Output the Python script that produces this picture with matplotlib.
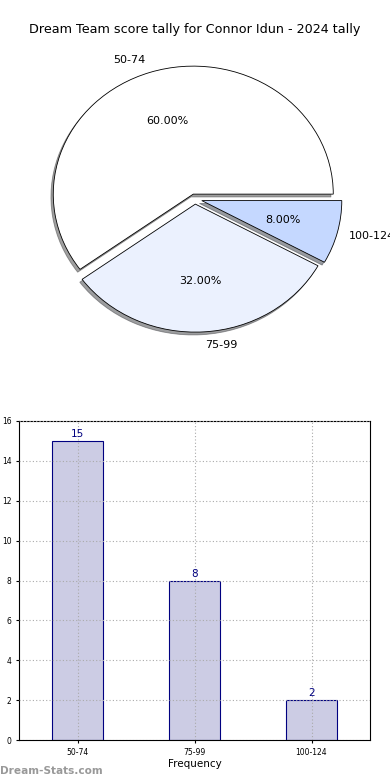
import matplotlib
matplotlib.use("Agg")
import matplotlib.pyplot as plt

categories = ["50-74", "75-99", "100-124"]
counts = [15, 8, 2]
pie_colors = ["#ffffff", "#ebf1fe", "#c5d8ff"]
explode = [0.04, 0.04, 0.05]
title = "Dream Team score tally for Connor Idun - 2024 tally"

fig = plt.figure(figsize=(3.9, 7.8), dpi=100)

# Pie axes (units: 1 radius = 140 px horizontally, 128 px vertically)
rx, ry = 140, 128
cx, cy = 195, 199
half = 1.3
W, H = 390, 780
left = (cx - half * rx) / W
width = 2 * half * rx / W
bottom = 1 - (cy + half * ry) / H
height = 2 * half * ry / H
axp = fig.add_axes([left, bottom, width, height])
wedges, texts, autotexts = axp.pie(
    counts, labels=categories, colors=pie_colors, explode=explode,
    autopct="%.2f%%", shadow={"ox": -0.012, "oy": -0.016, "shade": 0.75},
    startangle=0,
    wedgeprops=dict(edgecolor="black", linewidth=0.6),
    textprops=dict(fontsize=8), labeldistance=1.1, pctdistance=0.6)
texts[2].set_x(texts[2].get_position()[0] - 0.015)
axp.set_aspect("auto")
axp.set_xlim(-half, half)
axp.set_ylim(-half, half)
axp.axis("off")

fig.text(0.5, 1 - 30 / H, title, ha="center", va="center", fontsize=9.2)

# Bar axes
axb = fig.add_axes([19 / W, 1 - 740 / H, 351 / W, 319 / H])
x = list(range(len(categories)))
bars = axb.bar(x, counts, width=0.44, color="#cccce4", edgecolor="#000080", linewidth=0.8)
for xi, v in zip(x, counts):
    axb.text(xi, v + 0.1, str(v), ha="center", va="bottom", fontsize=7.5, color="#000080")
axb.set_xlim(-0.5, 2.5)
axb.set_ylim(0, 16)
axb.set_yticks(range(0, 17, 2))
axb.set_xticks(x)
axb.set_xticklabels(categories)
axb.tick_params(labelsize=5.5, length=2)
axb.grid(True, linestyle=(0, (1, 2)), color="#aaaaaa", linewidth=0.8)
axb.set_axisbelow(False)
axb.set_xlabel("Frequency", fontsize=7.5, labelpad=2)
axb.set_ylabel("Scores in Tally", fontsize=7.5)
axb.yaxis.set_label_coords(-0.068, 0.5)

fig.text(0.0, 1 - 771 / H, "Dream-Stats.com", ha="left", va="center",
         fontsize=7.6, color="#999999", fontweight="bold")

fig.savefig("out.png", dpi=100)
